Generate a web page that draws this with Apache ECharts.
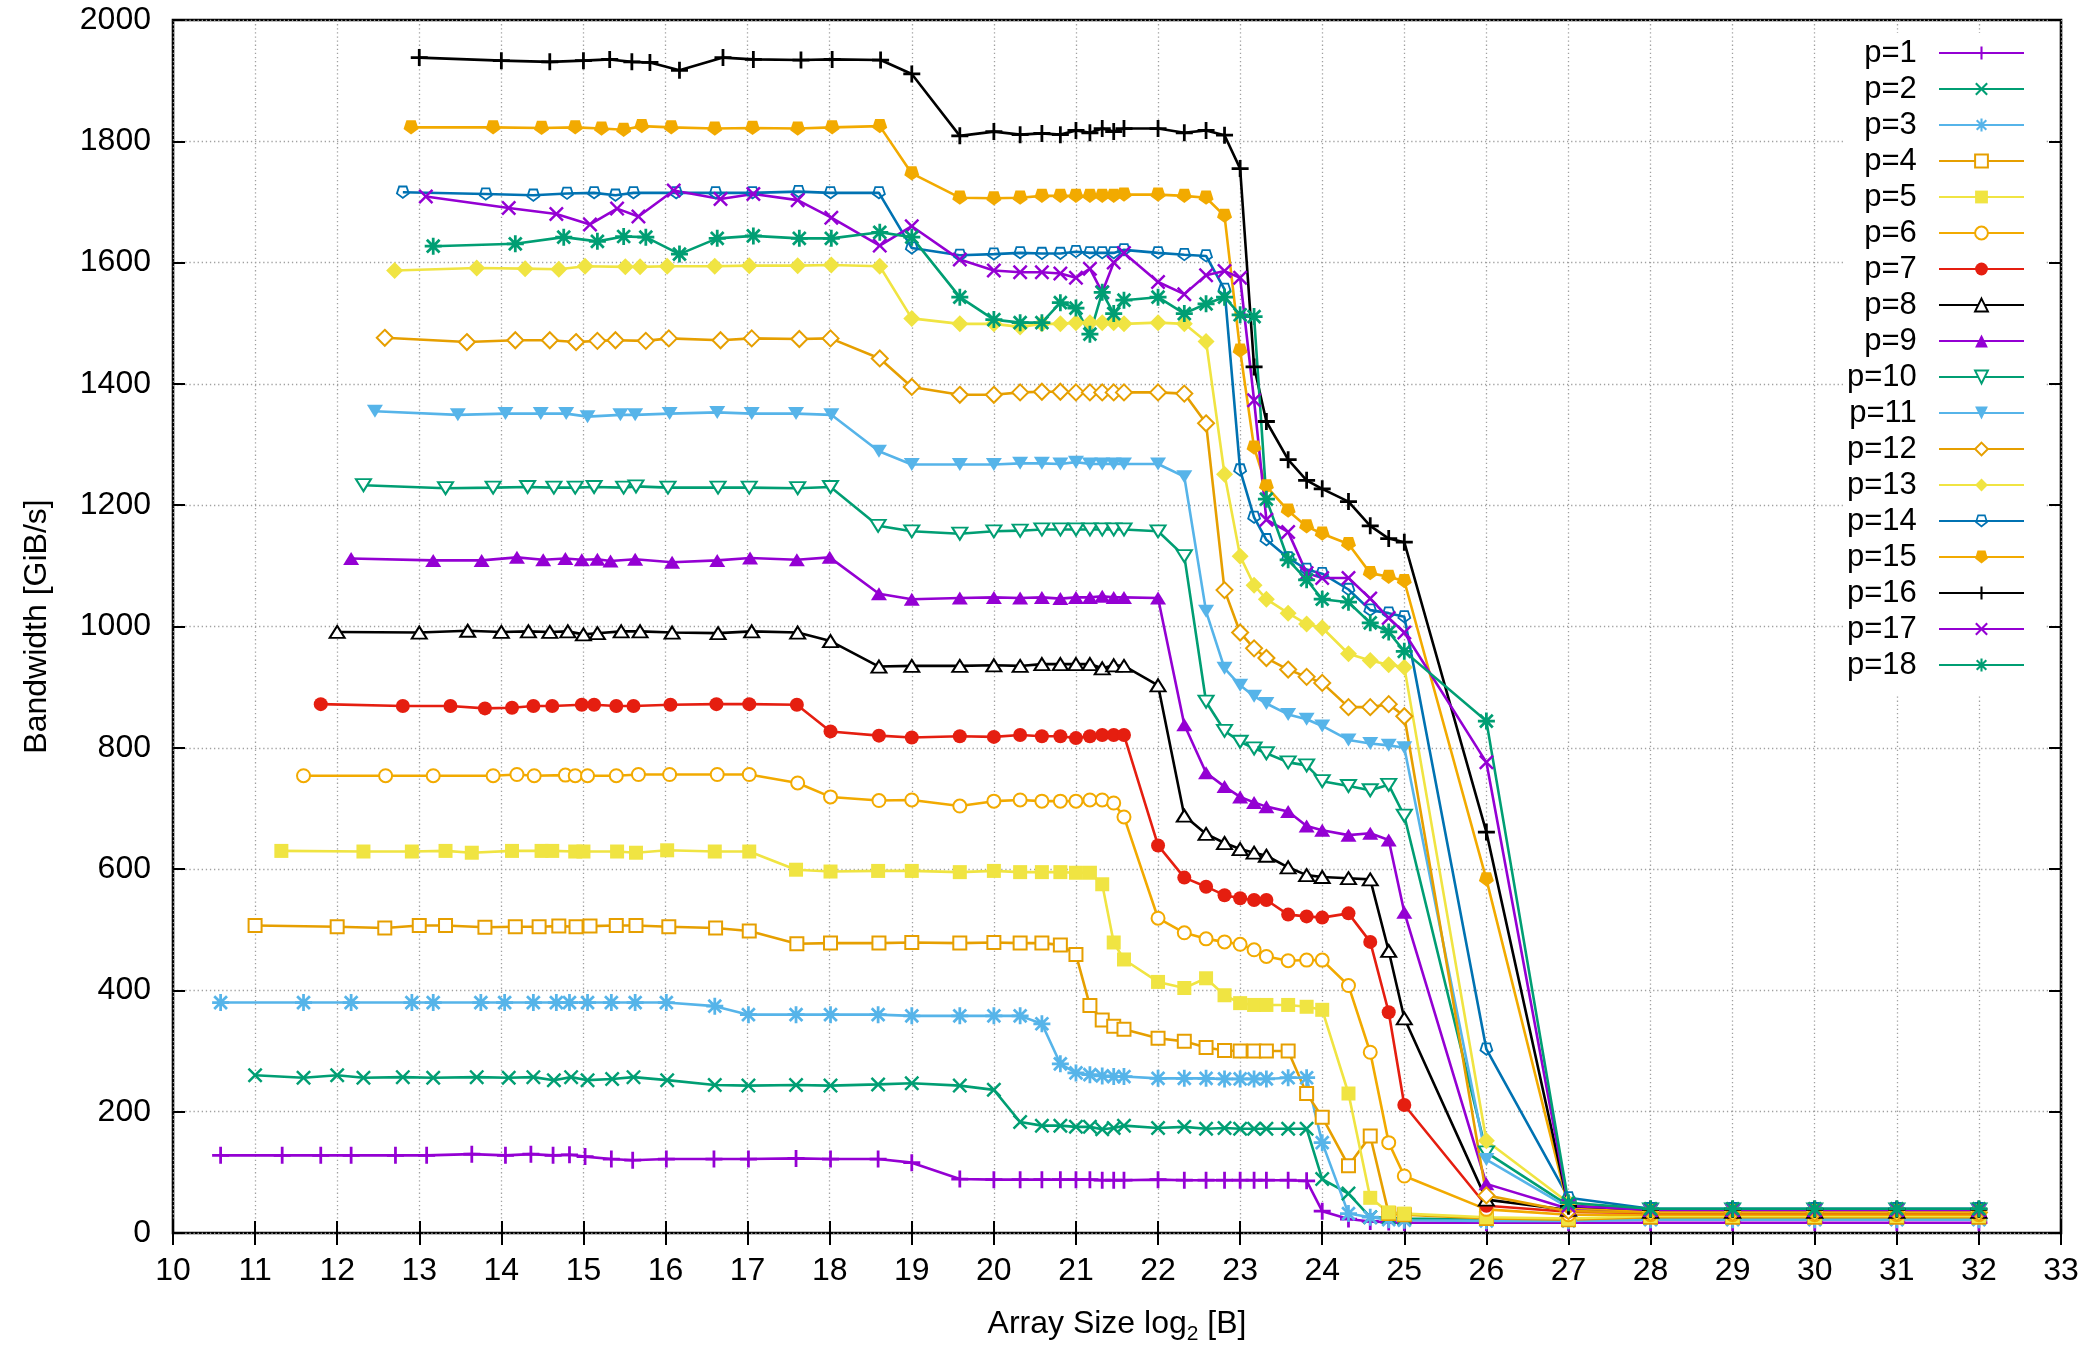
<!DOCTYPE html>
<html><head><meta charset="utf-8">
<script src="https://cdn.jsdelivr.net/npm/echarts@6/dist/echarts.min.js"></script>
<style>html,body{margin:0;padding:0;background:#fff}#c{width:2088px;height:1350px}</style>
</head><body><div id="c"></div>
<script>
// shared x positions (log2 array size) from 19 upward
const xTail = [19, 19.585, 20, 20.32, 20.585, 20.81, 21, 21.17, 21.32, 21.46, 21.585, 22, 22.32, 22.585, 22.81, 23, 23.17, 23.32, 23.585, 23.81, 24, 24.32, 24.585, 24.81, 25, 26, 27, 28, 29, 30, 31, 32];

const seriesNames = ['p=1','p=2','p=3','p=4','p=5','p=6','p=7','p=8','p=9','p=10','p=11','p=12','p=13','p=14','p=15','p=16','p=17','p=18'];

const p1X = [10.58, 11.33, 11.80, 12.17, 12.71, 13.09, 13.64, 14.05, 14.36, 14.63, 14.83, 15.02, 15.34, 15.60, 16.01, 16.59, 17.01, 17.59, 18.01, 18.59];
const p1Y = [128,128,128,128,128,128,130,128,130,128,129,126,122,120,122,122,122,123,122,122,
  116,89,88,88,88,88,88,88,87,87,87,88,87,87,87,87,87,87,87,86,36,23,19,18,17,17,17,17,17,17,17,17];

const p2X = [11.0, 11.59, 12.0, 12.32, 12.80, 13.17, 13.70, 14.09, 14.39, 14.64, 14.85, 15.05, 15.35, 15.61, 16.02, 16.60, 17.01, 17.59, 18.01, 18.59];
const p2Y = [260,256,260,256,257,256,257,256,257,252,257,252,254,257,252,244,243,244,243,245,
  247,243,236,183,177,177,175,175,171,173,177,173,175,172,173,172,172,172,172,172,89,65,26,25,24,22,22,24,24,24,24,24];

const p3X = [10.58, 11.59, 12.17, 12.91, 13.17, 13.75, 14.04, 14.39, 14.67, 14.83, 15.05, 15.34, 15.63, 16.01, 16.60, 17.01, 17.59, 18.01, 18.59];
const p3Y = [380,380,380,380,380,380,380,380,380,380,380,380,380,380,374,360,360,360,360,
  358,358,358,358,345,279,264,261,259,258,258,255,255,255,254,254,254,254,256,256,149,32,26,22,21,20,20,22,22,22,22,22];

const p4X = [11.0, 12.0, 12.58, 13.0, 13.32, 13.80, 14.17, 14.46, 14.70, 14.91, 15.08, 15.40, 15.64, 16.04, 16.61, 17.02, 17.60, 18.01, 18.6];
const p4Y = [507,505,503,507,507,504,505,505,506,505,506,507,507,505,503,498,477,478,478,
  479,478,479,478,478,475,459,375,351,341,336,321,316,306,301,300,300,300,300,230,191,111,160,32,30,24,22,26,26,26,26,26];

const p5X = [11.32, 12.32, 12.91, 13.32, 13.64, 14.13, 14.49, 14.62, 14.90, 15.0, 15.41, 15.64, 16.02, 16.60, 17.02, 17.59, 18.01, 18.59];
const p5Y = [630,629,629,630,627,630,630,630,629,629,629,627,631,629,629,599,596,597,
  597,595,597,595,595,595,594,594,575,479,451,414,404,420,392,379,376,376,376,373,368,230,58,34,32,26,24,28,28,28,28,28];

const p6X = [11.59, 12.59, 13.17, 13.90, 14.19, 14.40, 14.78, 14.90, 15.05, 15.40, 15.67, 16.05, 16.63, 17.02, 17.61, 18.01, 18.6];
const p6Y = [754,754,754,754,756,754,755,754,754,754,756,756,756,756,742,719,713,
  714,704,712,714,712,712,712,714,714,709,686,519,495,485,480,476,467,456,449,450,450,408,298,149,94,39,30,30,30,30,30,30];

const p7X = [11.80, 12.80, 13.38, 13.80, 14.13, 14.39, 14.62, 14.98, 15.13, 15.40, 15.61, 16.06, 16.62, 17.02, 17.6, 18.01, 18.6];
const p7Y = [872,869,869,865,866,869,869,871,871,869,869,871,872,872,871,827,820,
  817,819,818,821,819,819,816,819,821,821,821,639,586,571,557,552,549,549,525,522,520,527,480,364,211,45,35,33,33,33,33,33];

const p8X = [12.0, 13.0, 13.59, 14.0, 14.33, 14.59, 14.81, 15.0, 15.17, 15.46, 15.69, 16.08, 16.64, 17.05, 17.61, 18.01, 18.6];
const p8Y = [991,990,993,991,992,991,992,987,989,992,992,990,989,992,990,976,934,
  935,935,936,935,938,938,938,938,931,936,935,903,688,658,643,633,627,622,603,590,587,585,583,465,354,55,38,35,35,35,35,35];

const p9X = [12.17, 13.17, 13.76, 14.19, 14.51, 14.78, 14.98, 15.17, 15.33, 15.63, 16.08, 16.63, 17.03, 17.6, 18.0, 18.6];
const p9Y = [1112,1109,1109,1114,1110,1112,1110,1111,1108,1111,1106,1109,1113,1110,1114,1054,
  1045,1047,1048,1047,1048,1046,1048,1048,1050,1048,1048,1047,838,759,736,719,710,703,695,671,664,656,659,648,529,81,40,37,37,37,37,37];

const p10X = [12.32, 13.32, 13.90, 14.32, 14.64, 14.90, 15.13, 15.49, 15.64, 16.03, 16.64, 17.02, 17.61, 18.01, 18.59];
const p10Y = [1233,1228,1229,1230,1229,1229,1230,1229,1231,1229,1229,1229,1228,1230,1166,
  1157,1153,1157,1158,1160,1160,1160,1160,1160,1160,1160,1157,1116,876,828,810,799,791,776,771,745,737,730,739,688,133,45,39,39,39,39,39];

const p11X = [12.46, 13.47, 14.05, 14.48, 14.79, 15.05, 15.45, 15.63, 16.05, 16.63, 17.05, 17.59, 18.02, 18.6];
const p11Y = [1355,1349,1351,1351,1351,1346,1349,1349,1351,1353,1351,1351,1349,1289,
  1267,1267,1267,1269,1269,1268,1271,1268,1268,1268,1268,1268,1247,1025,931,903,885,873,855,847,836,813,807,804,800,121,42,38,38,38,38,38];

const p12X = [12.58, 13.58, 14.17, 14.59, 14.91, 15.17, 15.39, 15.76, 16.04, 16.67, 17.05, 17.63, 18.01, 18.61];
const p12Y = [1476,1469,1472,1472,1469,1471,1472,1471,1475,1472,1475,1474,1475,1442,
  1395,1382,1382,1386,1387,1387,1386,1386,1386,1386,1386,1386,1384,1335,1060,990,964,948,929,917,907,867,867,872,852,62,36,34,34,34,34,34];

const p13X = [12.70, 13.70, 14.29, 14.70, 15.02, 15.51, 15.69, 16.02, 16.60, 17.02, 17.61, 18.02, 18.61];
const p13Y = [1587,1591,1590,1589,1594,1593,1593,1594,1594,1595,1595,1596,1594,
  1508,1499,1499,1494,1499,1499,1501,1501,1501,1501,1499,1501,1499,1470,1251,1116,1068,1045,1022,1004,998,955,944,937,933,152,50,36,36,36,36,36];

const p14X = [12.80, 13.81, 14.39, 14.80, 15.13, 15.39, 15.61, 16.13, 16.61, 17.06, 17.62, 18.01, 18.6];
const p14Y = [1716,1713,1711,1714,1715,1711,1715,1715,1715,1715,1717,1715,1715,
  1624,1612,1614,1616,1615,1615,1618,1616,1616,1616,1621,1616,1613,1611,1556,1258,1180,1143,1113,1094,1087,1061,1027,1022,1016,303,58,40,40,40,40,40];

const p15X = [12.90, 13.90, 14.49, 14.90, 15.22, 15.49, 15.71, 16.07, 16.60, 17.06, 17.61, 18.03, 18.61];
const p15Y = [1823,1823,1822,1823,1821,1819,1825,1823,1821,1822,1821,1823,1825,
  1747,1707,1706,1707,1710,1710,1710,1710,1710,1710,1712,1712,1710,1707,1677,1455,1295,1231,1191,1165,1153,1136,1088,1082,1075,583,42,36,36,36,36,36];

const p16X = [13.0, 14.0, 14.59, 15.0, 15.32, 15.59, 15.81, 16.17, 16.70, 17.07, 17.65, 18.03, 18.62];
const p16Y = [1938,1933,1931,1933,1935,1931,1930,1917,1938,1935,1934,1935,1934,
  1911,1809,1816,1811,1813,1811,1818,1814,1821,1816,1821,1821,1814,1818,1810,1755,1428,1338,1275,1241,1227,1206,1166,1145,1139,661,44,39,39,39,39,39];

const p17X = [13.08, 14.09, 14.67, 15.08, 15.41, 15.67, 16.10, 16.67, 17.07, 17.61, 18.02, 18.61];
const p17Y = [1709,1690,1680,1663,1689,1676,1719,1705,1713,1703,1674,1628,
  1660,1605,1587,1584,1584,1582,1575,1590,1551,1600,1616,1568,1548,1579,1586,1575,1373,1176,1156,1088,1080,1080,1046,1014,990,776,45,38,38,38,38,38];

const p18X = [13.17, 14.17, 14.76, 15.17, 15.49, 15.76, 16.17, 16.63, 17.07, 17.63, 18.02, 18.61];
const p18Y = [1627,1631,1642,1635,1643,1642,1614,1640,1644,1640,1640,1650,
  1642,1543,1506,1501,1501,1534,1525,1482,1551,1516,1538,1543,1516,1532,1543,1514,1511,1210,1110,1077,1045,1040,1006,991,959,844,50,40,40,40,40,40];

const xTicks = [10,11,12,13,14,15,16,17,18,19,20,21,22,23,24,25,26,27,28,29,30,31,32,33];
const yTicks = [0,200,400,600,800,1000,1200,1400,1600,1800,2000];

// ---- styling ----
const heads = [p1X,p2X,p3X,p4X,p5X,p6X,p7X,p8X,p9X,p10X,p11X,p12X,p13X,p14X,p15X,p16X,p17X,p18X];
const vals  = [p1Y,p2Y,p3Y,p4Y,p5Y,p6Y,p7Y,p8Y,p9Y,p10Y,p11Y,p12Y,p13Y,p14Y,p15Y,p16Y,p17Y,p18Y];

const PURPLE='#9400d3', GREEN='#009e73', LBLUE='#56b4e9', ORANGE='#e69f00', YELLOW='#f0e442',
      ORANGE2='#f2aa00', RED='#e51e10', BLACK='#000000', BLUE='#0072b2';
const colors = [PURPLE,GREEN,LBLUE,ORANGE,YELLOW,ORANGE2,RED,BLACK,PURPLE,GREEN,LBLUE,ORANGE,YELLOW,BLUE,ORANGE2,BLACK,PURPLE,GREEN];

const PLUS = 'path://M-1.3,-8L1.3,-8L1.3,-1.3L8,-1.3L8,1.3L1.3,1.3L1.3,8L-1.3,8L-1.3,1.3L-8,1.3L-8,-1.3L-1.3,-1.3Z';
const CROSS = 'path://M0,-1.84L6.08,-7.92L7.92,-6.08L1.84,0L7.92,6.08L6.08,7.92L0,1.84L-6.08,7.92L-7.92,6.08L-1.84,0L-7.92,-6.08L-6.08,-7.92Z';
const STAR = 'path://M-1.3,-8L1.3,-8L1.3,-1.3L8,-1.3L8,1.3L1.3,1.3L1.3,8L-1.3,8L-1.3,1.3L-8,1.3L-8,-1.3L-1.3,-1.3Z' +
  'M0,-1.84L5.08,-6.92L6.92,-5.08L1.84,0L6.92,5.08L5.08,6.92L0,1.84L-5.08,6.92L-6.92,5.08L-1.84,0L-6.92,-5.08L-5.08,-6.92Z';
const PENT_OPEN = 'path://M0,10L-9.51,3.09L-5.88,-8.09L5.88,-8.09L9.51,3.09ZM0,7L6.66,2.16L4.11,-5.66L-4.11,-5.66L-6.66,2.16Z';
const PENT = 'path://M0,10L-9.51,3.09L-5.88,-8.09L5.88,-8.09L9.51,3.09Z';

const symbols = [
  {s:PLUS, z:17}, {s:CROSS, z:15}, {s:STAR, z:17},
  {s:'emptyRect', z:13, e:1}, {s:'rect', z:14},
  {s:'emptyCircle', z:13, e:1}, {s:'circle', z:14},
  {s:'emptyTriangle', z:[15,12], e:1}, {s:'triangle', z:[16,13]},
  {s:'emptyTriangle', z:[15,12], e:1, r:180}, {s:'triangle', z:[16,13], r:180},
  {s:'emptyDiamond', z:16, e:1}, {s:'diamond', z:17},
  {s:PENT_OPEN, z:14}, {s:PENT, z:15},
  {s:PLUS, z:17}, {s:CROSS, z:15}, {s:STAR, z:17}
];

const FONT = 'Liberation Sans, Arial, Helvetica, sans-serif';
const FS = 32;

const series = seriesNames.map((name, i) => {
  const xs = heads[i].concat(xTail);
  const data = xs.map((x, k) => [x, vals[i][k]]);
  const sy = symbols[i];
  return {
    name, type: 'line', data,
    xAxisIndex: 0, yAxisIndex: 0,
    symbol: sy.s, symbolSize: sy.z, symbolRotate: sy.r || 0, symbolKeepAspect: true,
    showAllSymbol: true,
    lineStyle: {color: colors[i], width: 2.6},
    itemStyle: {color: colors[i], borderColor: colors[i], borderWidth: sy.e ? 2.2 : 0},
    emphasis: {disabled: true},
    animation: false
  };
});

const chart = echarts.init(document.getElementById('c'), null, {renderer: 'canvas'});
const gridLine = {show: true, lineStyle: {color: '#a0a0a0', width: 1.3, type: [1.3, 2.8]}};
chart.setOption({
  backgroundColor: '#ffffff',
  animation: false,
  textStyle: {fontFamily: FONT},
  grid: {left: 173, right: 27, top: 20, bottom: 110, show: true, borderColor: '#000', borderWidth: 2.6, backgroundColor: 'transparent'},
  legend: {
    data: seriesNames,
    orient: 'vertical',
    align: 'right',
    right: 43, top: 33,
    padding: [4, 20, 14, 4],
    backgroundColor: '#ffffff',
    itemWidth: 85, itemHeight: 16, itemGap: 4,
    selectedMode: false,
    formatter: n => n + '  ',
    textStyle: {fontSize: 31, lineHeight: 32, color: '#000', fontFamily: FONT}
  },
  xAxis: [{
    type: 'value', min: xTicks[0], max: xTicks[xTicks.length - 1], interval: 1,
    position: 'bottom',
    axisLine: {show: false},
    axisTick: {show: true, inside: true, length: 12, lineStyle: {color: '#000', width: 2}},
    axisLabel: {show: true, color: '#000', fontSize: FS, margin: 22, fontFamily: FONT},
    splitLine: gridLine,
    name: '{a|Array Size log}{s|2}{a| [B]}',
    nameLocation: 'middle', nameGap: 72,
    nameTextStyle: {rich: {
      a: {fontSize: FS, color: '#000', fontFamily: FONT, lineHeight: 38},
      s: {fontSize: 21, color: '#000', fontFamily: FONT, lineHeight: 21, verticalAlign: 'bottom', padding: [0, 0, -2, 0]}
    }}
  }, {
    type: 'value', min: xTicks[0], max: xTicks[xTicks.length - 1], interval: 1,
    position: 'top',
    axisLine: {show: false},
    axisTick: {show: true, inside: true, length: 12, lineStyle: {color: '#000', width: 2}},
    axisLabel: {show: false},
    splitLine: {show: false}
  }],
  yAxis: [{
    type: 'value', min: yTicks[0], max: yTicks[yTicks.length - 1], interval: 200,
    position: 'left',
    axisLine: {show: false},
    axisTick: {show: true, inside: true, length: 12, lineStyle: {color: '#000', width: 2}},
    axisLabel: {show: true, color: '#000', fontSize: FS, margin: 22, fontFamily: FONT, formatter: v => String(v)},
    splitLine: gridLine,
    name: 'Bandwidth [GiB/s]',
    nameLocation: 'middle', nameGap: 120, nameRotate: 90,
    nameTextStyle: {fontSize: FS, color: '#000', fontFamily: FONT}
  }, {
    type: 'value', min: yTicks[0], max: yTicks[yTicks.length - 1], interval: 200,
    position: 'right',
    axisLine: {show: false},
    axisTick: {show: true, inside: true, length: 12, lineStyle: {color: '#000', width: 2}},
    axisLabel: {show: false},
    splitLine: {show: false}
  }],
  series
});
</script>
</body></html>
